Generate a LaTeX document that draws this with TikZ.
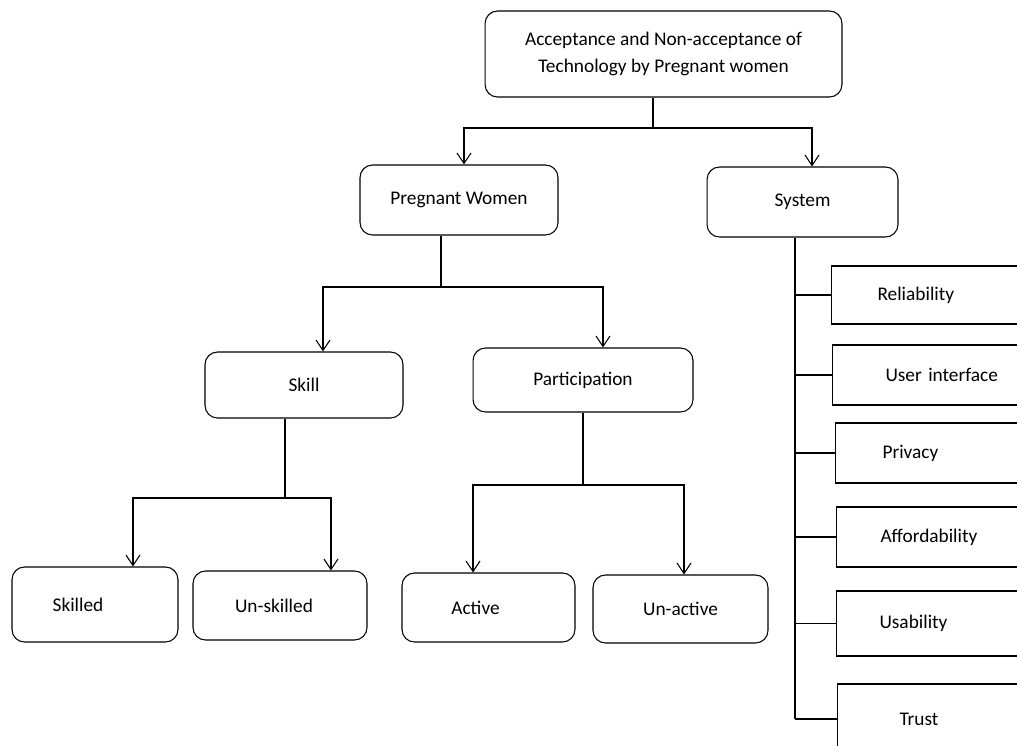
\documentclass[tikz,border=0pt]{standalone}
\usepackage{fontspec}
\setmainfont{Carlito}
\usetikzlibrary{arrows.meta, positioning}

\tikzset{
    branch/.style={draw, rounded corners=0.25cm, align=center, inner sep=0pt},
    factor/.style={draw, anchor=west, align=left, text width=4cm, inner xsep=0.92cm, inner ysep=0pt, minimum height=1.2cm},
    link/.style={-{Straight Barb[length=6pt,width=8pt]}}
}

\begin{document}
\begin{tikzpicture}[x=0.02cm, y=-0.02cm, line width=0.6pt, font=\fontsize{11}{15}\selectfont]
    \useasboundingbox (0,0) rectangle (1017,745);
    \clip (0,0) rectangle (1017,745);
    \node[branch, minimum width=7.14cm, minimum height=1.72cm] (root) at (663.5, 54) {Acceptance and Non-acceptance of\\Technology by Pregnant women};
    \node[branch, minimum width=3.96cm, minimum height=1.4cm] (women) at (459, 200) {Pregnant Women};
    \node[branch, minimum width=3.82cm, minimum height=1.4cm] (system) at (802.5, 202) {System};
    \node[branch, minimum width=3.96cm, minimum height=1.32cm] (skill) at (304, 385) {Skill};
    \node[branch, minimum width=4.4cm, minimum height=1.28cm] (part) at (583, 380) {Participation};
    \node[branch, minimum width=3.32cm, minimum height=1.5cm] (skilled) at (95, 604.5) {\hspace*{-0.68cm}Skilled};
    \node[branch, minimum width=3.48cm, minimum height=1.38cm] (unskilled) at (280, 605.5) {\hspace*{-0.24cm}Un-skilled};
    \node[branch, minimum width=3.46cm, minimum height=1.38cm] (active) at (488.5, 607.5) {\hspace*{-0.52cm}Active};
    \node[branch, minimum width=3.5cm, minimum height=1.36cm] (unactive) at (680.5, 609) {Un-active};

    % system factors
    \node[factor, minimum height=1.16cm] (rel) at (831, 295) {Reliability};
    \node[factor, inner xsep=1.06cm] (ui) at (832, 375) {User interface};
    \node[factor, inner xsep=0.94cm] (priv) at (835, 453) {Privacy};
    \node[factor, inner xsep=0.88cm] (aff) at (836, 537) {Affordability};
    \node[factor, inner xsep=0.86cm, minimum height=1.3cm] (usa) at (836, 623.5) {Usability};
    \node[factor, inner xsep=1.24cm, minimum height=1.4cm] (trust) at (837, 719) {Trust};

    \coordinate (j0) at (653, 128);
    \coordinate (j1) at (441, 287);
    \coordinate (j2) at (285, 498);
    \coordinate (j3) at (583, 485);
    \coordinate (spine) at (795, 0);

    \draw (root.south -| j0) -- (j0);
    \draw[link] (j0) -| ([xshift=0.1cm]women.north);
    \draw[link] (j0) -| ([xshift=0.19cm]system.north);
    \draw (women.south -| j1) -- (j1);
    \draw[link] (j1) -| ([xshift=0.38cm]skill.north);
    \draw[link] (j1) -| ([xshift=0.4cm]part.north);
    \draw (skill.south -| j2) -- (j2);
    \draw[link] (j2) -| ([xshift=0.76cm]skilled.north);
    \draw[link] (j2) -| ([xshift=1.02cm]unskilled.north);
    \draw (part.south -| j3) -- (j3);
    \draw[link] (j3) -| ([xshift=-0.31cm]active.north);
    \draw[link] (j3) -| ([xshift=0.07cm]unactive.north);

    \draw (system.south -| spine) -- (spine |- trust.west);
    \foreach \f in {rel, ui, priv, aff, usa, trust}
        \draw (spine |- \f.west) -- (\f.west);
\end{tikzpicture}
\end{document}
